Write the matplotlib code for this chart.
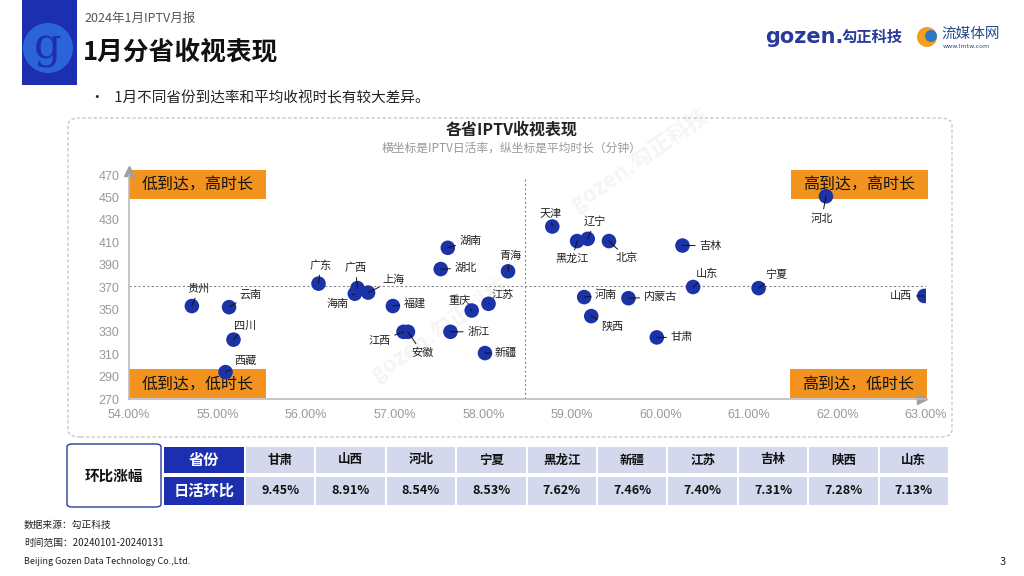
import matplotlib
matplotlib.use('Agg')
import matplotlib.pyplot as plt
from matplotlib.patches import Rectangle, FancyBboxPatch, Ellipse
from matplotlib.ticker import FuncFormatter

plt.rcParams['font.family'] = ['Noto Sans CJK SC', 'DejaVu Sans']
plt.rcParams['axes.unicode_minus'] = False

# scatter data: IPTV daily active rate (%) vs average viewing time (min)
provinces = ['贵州', '云南', '四川', '西藏', '广东', '广西', '海南', '上海', '福建', '江西',
             '安徽', '湖南', '湖北', '青海', '江苏', '重庆', '浙江', '新疆', '天津', '黑龙江',
             '辽宁', '北京', '吉林', '山东', '宁夏', '河北', '山西', '河南', '内蒙古', '陕西', '甘肃']
active_rate = [54.71, 55.13, 55.18, 55.09, 56.14, 56.58, 56.55, 56.70, 56.98, 57.10,
               57.15, 57.60, 57.52, 58.28, 58.06, 57.87, 57.63, 58.02, 58.78, 59.06,
               59.18, 59.42, 60.25, 60.37, 61.11, 61.87, 62.98, 59.14, 59.64, 59.22, 59.96]
avg_minutes = [353, 352, 323, 294, 373, 369, 364, 365, 353, 330,
               330, 405, 386, 384, 355, 349, 330, 311, 424, 411,
               413, 411, 407, 370, 369, 451, 362, 361, 360, 344, 325]
mean_rate = 58.47
mean_minutes = 371

# table data
table_provinces = ['甘肃', '山西', '河北', '宁夏', '黑龙江', '新疆', '江苏', '吉林', '陕西', '山东']
mom_change = [9.45, 8.91, 8.54, 8.53, 7.62, 7.46, 7.40, 7.31, 7.28, 7.13]

# label offsets in pixels (dx, dy), layout only
label_offsets = {
    '贵州': (7, 17), '云南': (21, 13), '四川': (12, 14), '西藏': (20, 11),
    '广东': (2, 18), '广西': (-2, 20), '海南': (-17, -10), '上海': (26, 13),
    '福建': (22, 3), '江西': (-24, -9), '安徽': (14, -21), '湖南': (23, 7),
    '湖北': (25, 1), '青海': (2, 15), '江苏': (14, 9), '重庆': (-12, 10),
    '浙江': (28, 0), '新疆': (21, 0), '天津': (-2, 13), '黑龙江': (-5, -18),
    '辽宁': (7, 17), '北京': (18, -17), '吉林': (28, 0), '山东': (14, 13),
    '宁夏': (18, 13), '河北': (-4, -22), '山西': (-23, 0), '河南': (22, 2),
    '内蒙古': (32, 1), '陕西': (21, -11), '甘肃': (25, 0),
}

W, H = 1024, 576
fig = plt.figure(figsize=(W / 100, H / 100), dpi=100)


def fx(px):
    return px / W


def fy(py):
    return 1 - py / H


def circle(cx, cy, r, color):
    # round circle in pixel units on the figure
    fig.patches.append(Ellipse((fx(cx), fy(cy)), 2 * r / W, 2 * r / H,
                               transform=fig.transFigure, facecolor=color, edgecolor='none'))


# watermarks, faint and behind everything
for wx, wy in [(640, 160), (440, 330)]:
    fig.text(fx(wx), fy(wy), 'gozen.勾正科技', fontsize=16, color='#f5f5f5', rotation=35,
             ha='center', va='center', fontweight='bold', zorder=-5)

# header
fig.patches.append(Rectangle((fx(22), fy(85)), fx(55), 85 / H, transform=fig.transFigure,
                             facecolor='#1b2fb0', edgecolor='none'))
circle(48, 48, 25, '#2b63d9')
fig.text(fx(48), fy(47), 'g', color='#1b2fb0', fontsize=31,
         ha='center', va='center', family='DejaVu Serif')
fig.text(fx(84), fy(18), '2024年1月IPTV月报', fontsize=9, color='#555555', va='center')
fig.text(fx(83), fy(52), '1月分省收视表现', fontsize=18.5, fontweight='bold', color='#111111',
         va='center')
fig.text(fx(90), fy(98), '•   1月不同省份到达率和平均收视时长有较大差异。', fontsize=10.5,
         color='#222222', va='center')

# logos
fig.text(fx(765), fy(37), 'gozen.', fontsize=15, fontweight='bold', color='#2a3a9c',
         va='center', family='DejaVu Sans')
fig.text(fx(842), fy(37), '勾正科技', fontsize=11, fontweight='bold', color='#2a3a9c', va='center')
circle(927, 37, 10, '#f0a020')
circle(931, 36, 6, '#2f78c8')
fig.text(fx(941), fy(34), '流媒体网', fontsize=10.5, color='#2a4a8c', va='center')
fig.text(fx(943), fy(46), 'www.lmtw.com', fontsize=4.5, color='#2a4a8c', va='center',
         family='DejaVu Sans')

# dashed frame around chart
fig.patches.append(FancyBboxPatch((fx(68), fy(437)), fx(884), 319 / H,
                                  boxstyle='round,pad=0,rounding_size=0.012',
                                  transform=fig.transFigure, facecolor='none',
                                  edgecolor='#bbbbbb', linestyle=(0, (3, 2)), linewidth=0.8))

fig.text(0.5, fy(130), '各省IPTV收视表现', fontsize=11.5, fontweight='bold', ha='center',
         va='center', color='#222222')
fig.text(0.5, fy(148), '横坐标是IPTV日活率，纵坐标是平均时长（分钟）', fontsize=8.5,
         ha='center', va='center', color='#999999')

# scatter axes
ax = fig.add_axes([fx(129), fy(399), 797 / W, 224 / H])
ax.set_facecolor('none')
ax.set_xlim(54, 63)
ax.set_ylim(270, 470)
ax.set_xticks(range(54, 64))
ax.set_yticks(range(270, 471, 20))
ax.xaxis.set_major_formatter(FuncFormatter(lambda v, p: '%.2f%%' % v))
ax.tick_params(length=0, colors='#999999', labelsize=9)
ax.tick_params(axis='x', pad=7)
ax.tick_params(axis='y', pad=7)
for lab in ax.get_xticklabels() + ax.get_yticklabels():
    lab.set_family('Liberation Sans')
for s in ['top', 'right']:
    ax.spines[s].set_visible(False)
for s in ['left', 'bottom']:
    ax.spines[s].set_color('#bbbbbb')
    ax.spines[s].set_linewidth(1.2)
ax.plot([0], [1.02], marker='^', color='#a0a0a0', markersize=7, transform=ax.transAxes,
        clip_on=False)
ax.plot([0.995], [0], marker='>', color='#a0a0a0', markersize=7, transform=ax.transAxes,
        clip_on=False)

ax.axvline(mean_rate, ymax=0.98, color='#888888', lw=0.8, linestyle=(0, (2, 2)))
ax.axhline(mean_minutes, color='#888888', lw=0.8, linestyle=(0, (2, 2)))

# quadrant boxes
quad = [((0.0, 0.893), '低到达，高时长'), ((0.0, 0.004), '低到达，低时长'),
        ((0.830, 0.893), '高到达，高时长'), ((0.829, 0.004), '高到达，低时长')]
for (qx, qy), txt in quad:
    ax.add_patch(Rectangle((qx, qy), 0.172, 0.128, transform=ax.transAxes, clip_on=False,
                           facecolor='#f29320', edgecolor='none', zorder=1))
    ax.text(qx + 0.086, qy + 0.064, txt, transform=ax.transAxes, fontsize=11.5,
            ha='center', va='center', color='#111111', zorder=2)

ax.scatter(active_rate, avg_minutes, s=110, color='#1c33a8', zorder=3, clip_on=True,
           edgecolors='none')
for name, x, y in zip(provinces, active_rate, avg_minutes):
    dx, dy = label_offsets[name]
    ax.annotate(name, xy=(x, y), xytext=(dx, dy), textcoords='offset pixels',
                ha='center', va='center', fontsize=8, color='#222222', zorder=4,
                arrowprops=dict(arrowstyle='-', lw=0.7, color='#111111',
                                shrinkA=1, shrinkB=0))

# table
fig.patches.append(FancyBboxPatch((fx(67), fy(507)), fx(94), 63 / H,
                                  boxstyle='round,pad=0,rounding_size=0.005',
                                  transform=fig.transFigure, facecolor='white',
                                  edgecolor='#2a3a9c', linewidth=1.0))
fig.text(fx(114), fy(476), '环比涨幅', fontsize=10.5, fontweight='bold', ha='center',
         va='center', color='#111111')
rows = [(447, 473), (477, 505)]
row_titles = ['省份', '日活环比']
for (top, bot), title in zip(rows, row_titles):
    fig.patches.append(Rectangle((fx(164), fy(bot)), fx(80), (bot - top) / H,
                                 transform=fig.transFigure, facecolor='#1b2fb0',
                                 edgecolor='none'))
    fig.text(fx(204), fy((top + bot) / 2), title, fontsize=11, fontweight='bold',
             color='white', ha='center', va='center')
col_w = 70.4
for i, (prov, val) in enumerate(zip(table_provinces, mom_change)):
    x0 = 246 + i * col_w
    for (top, bot), txt in zip(rows, [prov, '%.2f%%' % val]):
        fig.patches.append(Rectangle((fx(x0), fy(bot)), fx(col_w - 2), (bot - top) / H,
                                     transform=fig.transFigure, facecolor='#d3d8ec',
                                     edgecolor='none'))
        fig.text(fx(x0 + (col_w - 2) / 2), fy((top + bot) / 2), txt, fontsize=9,
                 fontweight='bold', color='#111111', ha='center', va='center')

# footer
fig.text(fx(24), fy(525), '数据来源：勾正科技', fontsize=7, color='#222222', va='center')
fig.text(fx(24), fy(543), '时间范围：20240101-20240131', fontsize=7, color='#222222', va='center')
fig.text(fx(24), fy(561), 'Beijing Gozen Data Technology Co.,Ltd.', fontsize=6.5,
         color='#222222', va='center')
fig.text(fx(1000), fy(562), '3', fontsize=8, color='#222222', va='center')

fig.savefig('out.png', dpi=100)
